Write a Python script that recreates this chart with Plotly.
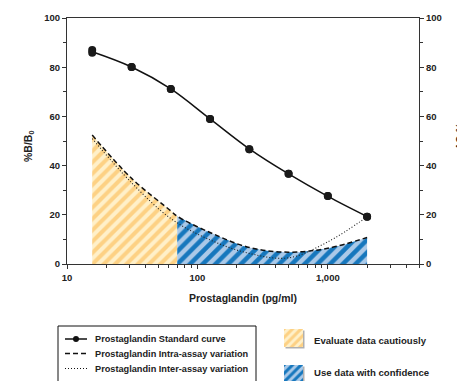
import plotly.graph_objects as go

W, H = 457, 381


def px(x):
    return x / W


def py(y):
    return 1 - y / H


FONT = "Liberation Sans, Arial, Helvetica, sans-serif"

# Standard curve (%B/B0) at each standard concentration (pg/ml)
conc = [15.6, 31.3, 62.5, 125, 250, 500, 1000, 2000]
std_rep1 = [87.0, 80.1, 71.1, 58.9, 46.6, 36.7, 27.6, 19.2]
std_rep2 = [85.9, 80.1, 71.1, 58.9, 46.6, 36.7, 27.6, 19.2]
std_fit = [86.3, 80.1, 71.2, 59.0, 46.8, 36.6, 27.5, 19.3]

# Intra-assay %CV (includes the 70 pg/ml confidence cut-off)
intra_conc = [15.6, 31.3, 62.5, 70, 125, 250, 500, 1000, 2000]
intra_cv = [52.4, 34.8, 21.6, 19.4, 12.8, 6.7, 4.8, 6.4, 10.8]
cutoff_index = 3

# Inter-assay %CV
inter_conc = [15.6, 31.3, 62.5, 125, 250, 500, 1000, 2000]
inter_cv = [51.0, 33.0, 18.5, 9.8, 4.3, 2.5, 9.0, 19.2]

# Axis ticks
x_major = [10, 100, 1000]
x_major_text = ["10", "100", "1,000"]
x_minor = [20, 30, 40, 50, 60, 70, 80, 90,
           200, 300, 400, 500, 600, 700, 800, 900,
           2000, 3000, 4000, 5000]
y_major = [0, 20, 40, 60, 80, 100]
y_minor = [10, 30, 50, 70, 90]

swatch_value = [1]

YELLOW_BG, YELLOW_FG = "#fff0c9", "#fdd184"
BLUE_BG, BLUE_FG = "#aac9e8", "#1677bd"

fig = go.Figure()

# Shaded areas under the intra-assay curve
fig.add_trace(go.Scatter(
    x=intra_conc[:cutoff_index + 1], y=intra_cv[:cutoff_index + 1],
    xaxis="x", yaxis="y2", mode="lines", line=dict(width=0, shape="spline"),
    fill="tozeroy", fillcolor=YELLOW_BG,
    fillpattern=dict(shape="/", bgcolor=YELLOW_BG, fgcolor=YELLOW_FG,
                     fgopacity=1, size=8, solidity=0.5),
    showlegend=False, hoverinfo="skip"))
fig.add_trace(go.Scatter(
    x=intra_conc[cutoff_index:], y=intra_cv[cutoff_index:],
    xaxis="x", yaxis="y2", mode="lines", line=dict(width=0, shape="spline"),
    fill="tozeroy", fillcolor=BLUE_BG,
    fillpattern=dict(shape="/", bgcolor=BLUE_BG, fgcolor=BLUE_FG,
                     fgopacity=1, size=9, solidity=0.5),
    showlegend=False, hoverinfo="skip"))

# Variation curves
fig.add_trace(go.Scatter(
    x=intra_conc, y=intra_cv, xaxis="x", yaxis="y2", mode="lines",
    line=dict(color="#111", width=1.5, dash="5px,3px", shape="spline"),
    showlegend=False))
fig.add_trace(go.Scatter(
    x=inter_conc, y=inter_cv, xaxis="x", yaxis="y2", mode="lines",
    line=dict(color="#222", width=1.1, dash="1px,2px", shape="spline"),
    showlegend=False))

# Standard curve
fig.add_trace(go.Scatter(
    x=conc, y=std_fit, xaxis="x", yaxis="y", mode="lines",
    line=dict(color="#111", width=1.5, shape="spline"), showlegend=False))
fig.add_trace(go.Scatter(
    x=conc + conc, y=std_rep1 + std_rep2, xaxis="x", yaxis="y", mode="markers",
    marker=dict(color="#1a1a1a", size=8), showlegend=False))

# Legend swatches drawn as patterned bars on small axes
fig.add_trace(go.Bar(
    x=[0], y=swatch_value, xaxis="x3", yaxis="y3", width=1,
    marker=dict(color=YELLOW_BG, line=dict(width=0),
                pattern=dict(shape="/", bgcolor=YELLOW_BG, fgcolor=YELLOW_FG,
                             fgopacity=1, size=6, solidity=0.5)),
    showlegend=False, hoverinfo="skip"))
fig.add_trace(go.Bar(
    x=[0], y=swatch_value, xaxis="x4", yaxis="y4", width=1,
    marker=dict(color=BLUE_BG, line=dict(width=0),
                pattern=dict(shape="/", bgcolor=BLUE_BG, fgcolor=BLUE_FG,
                             fgopacity=1, size=6, solidity=0.5)),
    showlegend=False, hoverinfo="skip"))

axis_common = dict(
    showline=True, linecolor="#333", linewidth=1.2, ticks="outside",
    ticklen=4, tickwidth=1, tickcolor="#333", showgrid=False, zeroline=False,
    tickfont=dict(family=FONT, size=9.5, color="#222", weight="bold"),
)

x_dom = [px(67), px(419)]
y_dom = [py(264), py(18)]

fig.update_layout(
    width=W, height=H, margin=dict(l=0, r=0, t=0, b=0, autoexpand=False),
    paper_bgcolor="white", plot_bgcolor="white", showlegend=False,
    bargap=0,
    xaxis=dict(
        **axis_common, type="log", range=[1, 3.69897], domain=x_dom,
        anchor="y", mirror=True,
        tickvals=x_major, ticktext=x_major_text,
        minor=dict(tickvals=x_minor, ticks="outside", ticklen=3, tickcolor="#333"),
    ),
    yaxis=dict(
        **axis_common, range=[0, 100], domain=y_dom, anchor="x",
        tickvals=y_major,
        minor=dict(tickvals=y_minor, ticks="outside", ticklen=3, tickcolor="#333"),
    ),
    yaxis2=dict(
        **axis_common, range=[0, 100], overlaying="y", side="right", anchor="x",
        tickvals=y_major,
        minor=dict(tickvals=y_minor, ticks="outside", ticklen=3, tickcolor="#333"),
    ),
    xaxis3=dict(domain=[px(284), px(303)], range=[-0.5, 0.5], visible=False,
                anchor="y3", fixedrange=True),
    yaxis3=dict(domain=[py(347), py(329)], range=[0, 1], visible=False,
                anchor="x3", fixedrange=True),
    xaxis4=dict(domain=[px(284), px(303)], range=[-0.5, 0.5], visible=False,
                anchor="y4", fixedrange=True),
    yaxis4=dict(domain=[0, py(365)], range=[0, 1], visible=False,
                anchor="x4", fixedrange=True),
)

shapes = []
annotations = []

# Axis titles
annotations.append(dict(
    x=px(243), y=py(298), xref="paper", yref="paper", showarrow=False,
    xanchor="center", yanchor="middle",
    text="Prostaglandin (pg/ml)", font=dict(family=FONT, size=10.5, color="#222", weight="bold")))
annotations.append(dict(
    x=px(29), y=py(146), xref="paper", yref="paper", showarrow=False, textangle=-90,
    xanchor="center", yanchor="middle",
    text="%B/B<sub>0</sub>", font=dict(family=FONT, size=10.5, color="#222", weight="bold")))
annotations.append(dict(
    x=px(452), y=py(136), xref="paper", yref="paper", showarrow=False, textangle=90,
    xanchor="left", yanchor="middle",
    text="% CV", font=dict(family=FONT, size=10.5, color="#222", weight="bold")))

# Line legend box
shapes.append(dict(type="rect", xref="paper", yref="paper",
                   x0=px(58), x1=px(256), y0=py(384), y1=py(326),
                   line=dict(color="#111", width=1), fillcolor="rgba(0,0,0,0)"))
legend_rows = [
    ("Prostaglandin Standard curve", 339, "solid", 1.5),
    ("Prostaglandin Intra-assay variation", 353.5, "5px,3px", 1.3),
    ("Prostaglandin Inter-assay variation", 368.5, "1px,2px", 1.0),
]
for label, yy, dash, lw in legend_rows:
    shapes.append(dict(type="line", xref="paper", yref="paper",
                       x0=px(65), x1=px(87), y0=py(yy), y1=py(yy),
                       line=dict(color="#111", width=lw, dash=dash)))
    annotations.append(dict(
        x=px(93), y=py(yy), xref="paper", yref="paper", showarrow=False,
        xanchor="left", yanchor="middle", text=label,
        font=dict(family=FONT, size=9.2, color="#222", weight="bold")))
shapes.append(dict(type="circle", xref="paper", yref="paper",
                   x0=px(73), x1=px(79), y0=py(342), y1=py(336),
                   fillcolor="#111", line=dict(color="#111", width=0)))

# Swatch shadows
for y0, y1 in [(330.5, 348.5), (366.5, 384)]:
    shapes.append(dict(type="rect", xref="paper", yref="paper", layer="below",
                       x0=px(285.5), x1=px(304.5), y0=py(y1), y1=py(y0),
                       fillcolor="#b0b0b0", line=dict(width=0)))

for label, yy in [("Evaluate data cautiously", 340), ("Use data with confidence", 372.5)]:
    annotations.append(dict(
        x=px(312), y=py(yy), xref="paper", yref="paper", showarrow=False,
        xanchor="left", yanchor="middle", text=label,
        font=dict(family=FONT, size=9.6, color="#222", weight="bold")))

fig.update_layout(shapes=shapes, annotations=annotations)

fig.write_html("out.html")
